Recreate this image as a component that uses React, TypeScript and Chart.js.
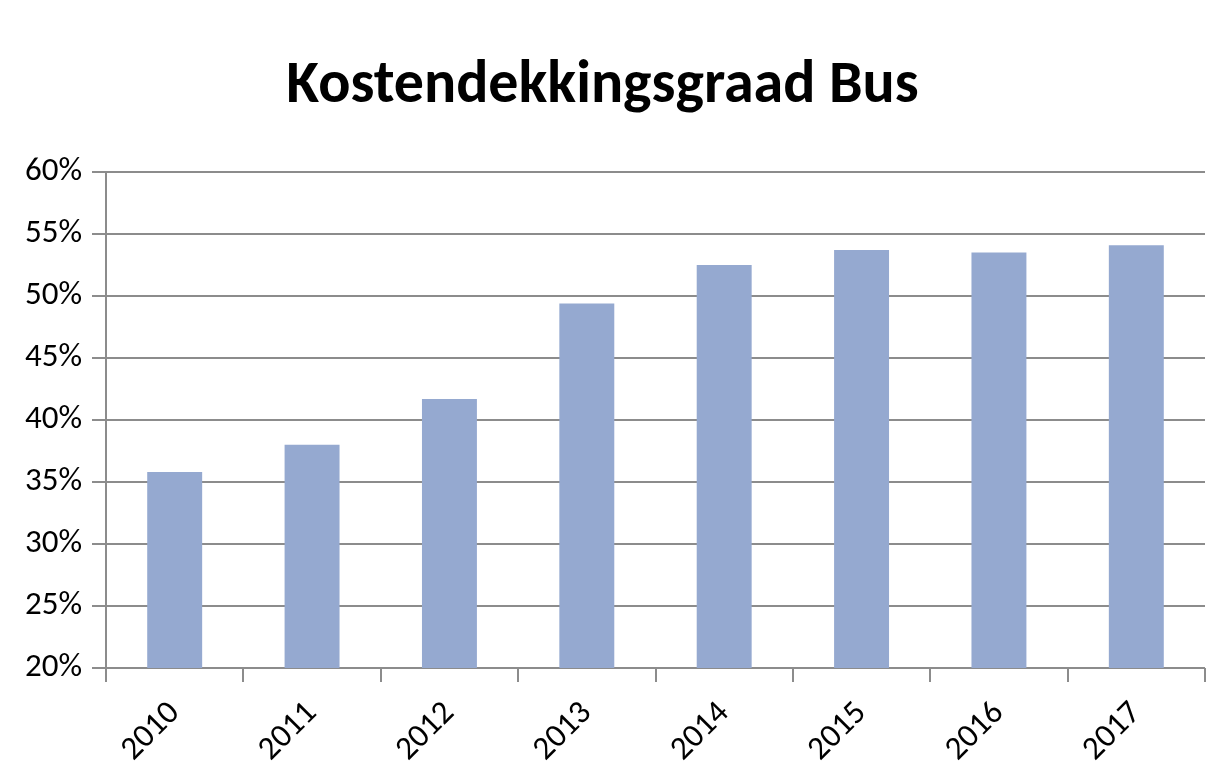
import React, { useEffect, useRef } from "react";
import { Chart, registerables } from "chart.js";

Chart.register(...registerables);

const TITLE = "Kostendekkingsgraad Bus";
const YEARS = ["2010", "2011", "2012", "2013", "2014", "2015", "2016", "2017"];
const COVERAGE = [35.8, 38.0, 41.7, 49.4, 52.5, 53.7, 53.5, 54.1];
const Y_MIN = 20;
const Y_MAX = 60;
const Y_STEP = 5;

const FONT = "Carlito, 'Open Sans', sans-serif";

export default function App() {
  const ref = useRef<HTMLCanvasElement | null>(null);

  useEffect(() => {
    if (!ref.current) return;
    const chart = new Chart(ref.current, {
      type: "bar",
      data: {
        labels: YEARS,
        datasets: [
          {
            data: COVERAGE,
            backgroundColor: "#95a9d0",
            borderWidth: 0,
            categoryPercentage: 1,
            barPercentage: 0.4,
          },
        ],
      },
      options: {
        animation: false,
        responsive: false,
        maintainAspectRatio: false,
        layout: { padding: { top: 51, right: 22, bottom: 0, left: 0 } },
        plugins: {
          legend: { display: false },
          tooltip: { enabled: false },
          title: {
            display: true,
            text: TITLE,
            color: "#000",
            font: { family: FONT, size: 60, weight: "bold", lineHeight: 1.2 },
            padding: { top: 0, bottom: 49 },
          },
        },
        scales: {
          x: {
            offset: true,
            grid: {
              display: true,
              offset: true,
              drawOnChartArea: false,
              drawTicks: true,
              tickLength: 14,
              color: "#8c8c8c",
              lineWidth: 2,
            },
            border: { display: false },
            ticks: {
              color: "#000",
              font: { family: FONT, size: 33 },
              minRotation: 45,
              maxRotation: 45,
              padding: 12,
            },
            afterFit: (s: any) => {
              s.height = 782 - 668;
            },
          },
          y: {
            min: Y_MIN,
            max: Y_MAX,
            ticks: {
              stepSize: Y_STEP,
              color: "#000",
              font: { family: FONT, size: 33 },
              padding: 10,
              callback: (v: any) => `${v}%`,
            },
            grid: {
              color: "#8c8c8c",
              lineWidth: 2,
              tickLength: 14,
            },
            border: { display: true, color: "#8c8c8c", width: 2 },
            afterFit: (s: any) => {
              s.width = 106;
            },
          },
        },
      },
    });
    return () => chart.destroy();
  }, []);

  return (
    <div
      style={{
        position: "fixed",
        left: 0,
        top: 0,
        width: 1227,
        height: 782,
        background: "#fff",
      }}
    >
      <canvas ref={ref} width={1227} height={782} style={{ width: 1227, height: 782 }} />
    </div>
  );
}
